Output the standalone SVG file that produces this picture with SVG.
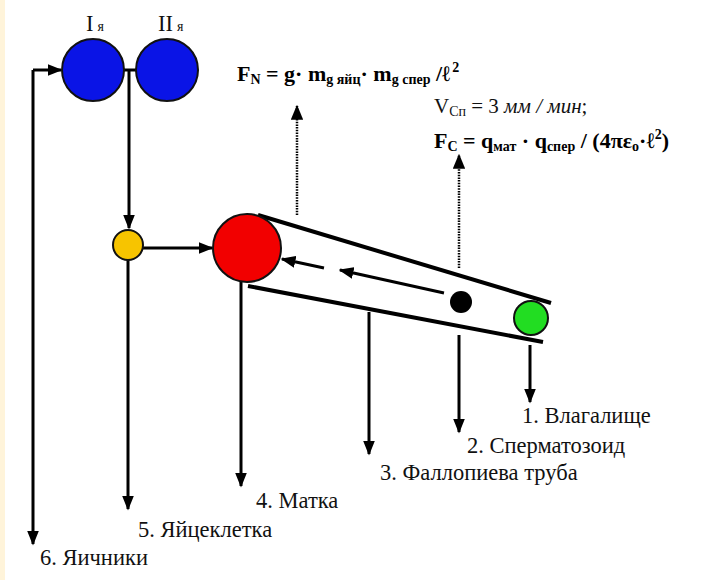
<svg xmlns="http://www.w3.org/2000/svg" width="710" height="580" viewBox="0 0 710 580">
<style>
.ln{stroke:#000;stroke-width:3;fill:none}
.tube{stroke:#000;stroke-width:4;fill:none}
.dot{stroke:#000;stroke-width:2.5;fill:none;stroke-dasharray:1.5 1.2}
.t{font-family:"Liberation Serif","Tinos","Noto Serif","DejaVu Serif","FreeSerif","Times New Roman",serif;font-size:22.5px;fill:#111}
.f{font-family:"Liberation Serif","Tinos","Noto Serif","DejaVu Serif","FreeSerif","Times New Roman",serif;font-size:22px;font-weight:bold;fill:#000}
.v{font-family:"Liberation Serif","Tinos","Noto Serif","DejaVu Serif","FreeSerif","Times New Roman",serif;font-size:21px;fill:#111}
.s{font-size:14px}
.node{stroke:#111;stroke-width:2}
</style>
<defs>
<marker id="ah" markerWidth="5" markerHeight="4" refX="4.5" refY="2" orient="auto" markerUnits="strokeWidth"><path d="M0,0 L5,2 L0,4 z" fill="#000"/></marker>
<marker id="ahd" markerWidth="6" markerHeight="5" refX="5.5" refY="2.5" orient="auto" markerUnits="strokeWidth"><path d="M0,0 L6,2.5 L0,5 z" fill="#000"/></marker>
</defs>
<rect x="0" y="0" width="710" height="580" fill="#fff"/>
<rect x="0" y="0" width="5" height="580" fill="#fff4da"/>
<g id="connectors">
<polyline class="ln" points="33,70 33,544" marker-end="url(#ah)"/>
<polyline class="ln" points="33,70 61,70" marker-end="url(#ah)"/>
<line class="ln" x1="124" y1="70" x2="137" y2="70"/>
<polyline class="ln" points="129,70 129,228" marker-end="url(#ah)"/>
<line class="ln" x1="143" y1="248" x2="212" y2="248" marker-end="url(#ah)"/>
<line class="ln" x1="128" y1="260" x2="128" y2="509" marker-end="url(#ah)"/>
<line class="ln" x1="241" y1="282" x2="241" y2="486" marker-end="url(#ah)"/>
<line class="ln" x1="369" y1="312" x2="369" y2="454" marker-end="url(#ah)"/>
<line class="ln" x1="459" y1="335" x2="459" y2="432" marker-end="url(#ah)"/>
<line class="ln" x1="530" y1="345" x2="530" y2="402" marker-end="url(#ah)"/>
<line class="dot" x1="297" y1="215" x2="297" y2="106" marker-end="url(#ahd)"/>
<line class="dot" x1="459" y1="268" x2="459" y2="155" marker-end="url(#ahd)"/>
<line class="ln" x1="444" y1="293" x2="340" y2="270" marker-end="url(#ah)"/>
<line class="ln" x1="324" y1="268" x2="282" y2="259" marker-end="url(#ah)"/>
</g>
<g id="tube">
<line class="tube" x1="258" y1="215" x2="551" y2="303"/>
<line class="tube" x1="248" y1="286" x2="543" y2="342"/>
</g>
<g id="ovary1"><circle class="node" cx="93" cy="70" r="31" fill="#0a14e6"/></g>
<g id="ovary2"><circle class="node" cx="167" cy="70" r="31" fill="#0a14e6"/></g>
<g id="egg"><circle class="node" cx="128" cy="245" r="15" fill="#f7c400"/></g>
<g id="uterus"><circle class="node" cx="247" cy="248" r="34" fill="#f20000"/></g>
<g id="sperm"><circle cx="461" cy="302" r="11" fill="#000"/></g>
<g id="vagina"><circle class="node" cx="531" cy="318" r="17" fill="#22dd22"/></g>
<g id="labels">
<text class="t" x="86" y="31">I<tspan class="s" dx="4">я</tspan></text>
<text class="t" x="158" y="31">II<tspan class="s" dx="4">я</tspan></text>
<text class="f" x="237" y="81">F<tspan class="s" dy="3">N</tspan><tspan dy="-3"> = g· m</tspan><tspan class="s" dy="3">g яйц</tspan><tspan dy="-3">· m</tspan><tspan class="s" dy="3">g спер</tspan><tspan dy="-3"> /ℓ</tspan><tspan class="s" dy="-9" dx="2">2</tspan></text>
<text class="v" x="434" y="113">V<tspan class="s" dy="3">Сп</tspan><tspan dy="-3"> = 3 </tspan><tspan font-style="italic">мм / мин</tspan>;</text>
<text class="f" x="434" y="148">F<tspan class="s" dy="3">C</tspan><tspan dy="-3"> = q</tspan><tspan class="s" dy="3">мат</tspan><tspan dy="-3"> · q</tspan><tspan class="s" dy="3">спер</tspan><tspan dy="-3"> / (4πε</tspan><tspan class="s" dy="3">o</tspan><tspan dy="-3">·ℓ</tspan><tspan class="s" dy="-9">2</tspan><tspan dy="9">)</tspan></text>
<text class="t" x="522" y="423">1. Влагалище</text>
<text class="t" x="467" y="453">2. Сперматозоид</text>
<text class="t" x="380" y="480">3. Фаллопиева труба</text>
<text class="t" x="256" y="508">4. Матка</text>
<text class="t" x="138" y="537">5. Яйцеклетка</text>
<text class="t" x="40" y="565">6. Яичники</text>
</g>
</svg>
